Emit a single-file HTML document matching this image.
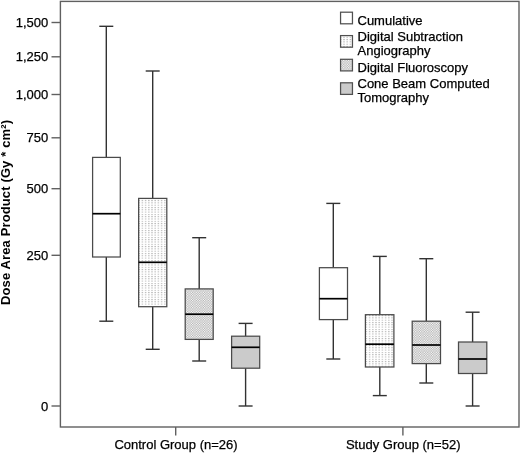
<!DOCTYPE html>
<html><head><meta charset="utf-8"><style>
html,body{margin:0;padding:0;background:#fff;width:520px;height:453px;overflow:hidden}
svg{display:block;filter:grayscale(1)}
.t{font-family:"Liberation Sans",sans-serif;font-size:13px;fill:#000;stroke:#000;stroke-width:0.25px}
.b{font-family:"Liberation Sans",sans-serif;font-size:13px;font-weight:bold;fill:#000}
</style></head><body>
<svg width="520" height="453" viewBox="0 0 520 453">
<defs>
<pattern id="pdsa" x="0" y="0" width="3.2" height="2.3" patternUnits="userSpaceOnUse">
<rect width="3.2" height="2.3" fill="#fff"/>
<rect x="1" y="0" width="1.2" height="1" fill="#a8a8a8"/>
</pattern>
<pattern id="pdf" x="0" y="0" width="2.4" height="2.4" patternUnits="userSpaceOnUse">
<rect width="2.4" height="2.4" fill="#adadad"/>
<rect x="0" y="0" width="1.2" height="1.2" fill="#fff"/>
<rect x="1.2" y="1.2" width="1.2" height="1.2" fill="#fff"/>
</pattern>
</defs>
<rect width="520" height="453" fill="#fff"/>
<rect x="60.4" y="1.4" width="458.6" height="425.6" fill="none" stroke="#606060" stroke-width="1.4"/>
<line x1="51.5" y1="22.5" x2="60.4" y2="22.5" stroke="#606060" stroke-width="1.4"/>
<text x="48.3" y="27.1" text-anchor="end" class="t">1,500</text>
<line x1="51.5" y1="56.8" x2="60.4" y2="56.8" stroke="#606060" stroke-width="1.4"/>
<text x="48.3" y="61.4" text-anchor="end" class="t">1,250</text>
<line x1="51.5" y1="94.5" x2="60.4" y2="94.5" stroke="#606060" stroke-width="1.4"/>
<text x="48.3" y="99.1" text-anchor="end" class="t">1,000</text>
<line x1="51.5" y1="137.8" x2="60.4" y2="137.8" stroke="#606060" stroke-width="1.4"/>
<text x="48.3" y="142.4" text-anchor="end" class="t">750</text>
<line x1="51.5" y1="188.7" x2="60.4" y2="188.7" stroke="#606060" stroke-width="1.4"/>
<text x="48.3" y="193.3" text-anchor="end" class="t">500</text>
<line x1="51.5" y1="255.3" x2="60.4" y2="255.3" stroke="#606060" stroke-width="1.4"/>
<text x="48.3" y="259.9" text-anchor="end" class="t">250</text>
<line x1="51.5" y1="406" x2="60.4" y2="406" stroke="#606060" stroke-width="1.4"/>
<text x="48.3" y="410.6" text-anchor="end" class="t">0</text>
<line x1="175.7" y1="427" x2="175.7" y2="435.6" stroke="#606060" stroke-width="1.4"/>
<text x="176.0" y="449.4" text-anchor="middle" class="t">Control Group (n=26)</text>
<line x1="402.9" y1="427" x2="402.9" y2="435.6" stroke="#606060" stroke-width="1.4"/>
<text x="403.2" y="449.4" text-anchor="middle" class="t">Study Group (n=52)</text>
<text transform="translate(10.4,305.0) rotate(-90)" textLength="185" lengthAdjust="spacing" class="b">Dose Area Product (Gy * cm²)</text>
<line x1="106.3" y1="26.3" x2="106.3" y2="157.4" stroke="#323232" stroke-width="1.4"/>
<line x1="106.3" y1="257.0" x2="106.3" y2="321.2" stroke="#323232" stroke-width="1.4"/>
<line x1="99.3" y1="26.3" x2="113.3" y2="26.3" stroke="#323232" stroke-width="1.4"/>
<line x1="99.3" y1="321.2" x2="113.3" y2="321.2" stroke="#323232" stroke-width="1.4"/>
<rect x="92.6" y="157.4" width="27.70" height="99.60" fill="#fff" stroke="#4a4a4a" stroke-width="1.25"/>
<line x1="92.6" y1="213.7" x2="120.3" y2="213.7" stroke="#000" stroke-width="1.7"/>
<line x1="152.7" y1="71.0" x2="152.7" y2="198.4" stroke="#323232" stroke-width="1.4"/>
<line x1="152.7" y1="306.7" x2="152.7" y2="349.3" stroke="#323232" stroke-width="1.4"/>
<line x1="145.7" y1="71.0" x2="159.7" y2="71.0" stroke="#323232" stroke-width="1.4"/>
<line x1="145.7" y1="349.3" x2="159.7" y2="349.3" stroke="#323232" stroke-width="1.4"/>
<rect x="138.65" y="198.4" width="28.15" height="108.30" fill="url(#pdsa)" stroke="#4a4a4a" stroke-width="1.25"/>
<line x1="138.65" y1="262.3" x2="166.8" y2="262.3" stroke="#000" stroke-width="1.7"/>
<line x1="199.2" y1="237.7" x2="199.2" y2="288.9" stroke="#323232" stroke-width="1.4"/>
<line x1="199.2" y1="339.4" x2="199.2" y2="361.0" stroke="#323232" stroke-width="1.4"/>
<line x1="192.2" y1="237.7" x2="206.2" y2="237.7" stroke="#323232" stroke-width="1.4"/>
<line x1="192.2" y1="361.0" x2="206.2" y2="361.0" stroke="#323232" stroke-width="1.4"/>
<rect x="185.2" y="288.9" width="28.00" height="50.50" fill="url(#pdf)" stroke="#4a4a4a" stroke-width="1.25"/>
<line x1="185.2" y1="314.2" x2="213.2" y2="314.2" stroke="#000" stroke-width="1.7"/>
<line x1="245.6" y1="323.4" x2="245.6" y2="336.2" stroke="#323232" stroke-width="1.4"/>
<line x1="245.6" y1="368.2" x2="245.6" y2="406.0" stroke="#323232" stroke-width="1.4"/>
<line x1="238.6" y1="323.4" x2="252.6" y2="323.4" stroke="#323232" stroke-width="1.4"/>
<line x1="238.6" y1="406.0" x2="252.6" y2="406.0" stroke="#323232" stroke-width="1.4"/>
<rect x="231.6" y="336.2" width="28.10" height="32.00" fill="#cbcbcb" stroke="#4a4a4a" stroke-width="1.25"/>
<line x1="231.6" y1="347.3" x2="259.7" y2="347.3" stroke="#000" stroke-width="1.7"/>
<line x1="333.3" y1="203.4" x2="333.3" y2="267.7" stroke="#323232" stroke-width="1.4"/>
<line x1="333.3" y1="319.6" x2="333.3" y2="359.0" stroke="#323232" stroke-width="1.4"/>
<line x1="326.3" y1="203.4" x2="340.3" y2="203.4" stroke="#323232" stroke-width="1.4"/>
<line x1="326.3" y1="359.0" x2="340.3" y2="359.0" stroke="#323232" stroke-width="1.4"/>
<rect x="319.4" y="267.7" width="28.10" height="51.90" fill="#fff" stroke="#4a4a4a" stroke-width="1.25"/>
<line x1="319.4" y1="298.7" x2="347.5" y2="298.7" stroke="#000" stroke-width="1.7"/>
<line x1="379.8" y1="256.4" x2="379.8" y2="314.7" stroke="#323232" stroke-width="1.4"/>
<line x1="379.8" y1="367.0" x2="379.8" y2="395.6" stroke="#323232" stroke-width="1.4"/>
<line x1="372.8" y1="256.4" x2="386.8" y2="256.4" stroke="#323232" stroke-width="1.4"/>
<line x1="372.8" y1="395.6" x2="386.8" y2="395.6" stroke="#323232" stroke-width="1.4"/>
<rect x="365.4" y="314.7" width="28.50" height="52.30" fill="url(#pdsa)" stroke="#4a4a4a" stroke-width="1.25"/>
<line x1="365.4" y1="344.2" x2="393.9" y2="344.2" stroke="#000" stroke-width="1.7"/>
<line x1="426.3" y1="258.7" x2="426.3" y2="321.2" stroke="#323232" stroke-width="1.4"/>
<line x1="426.3" y1="363.6" x2="426.3" y2="383.0" stroke="#323232" stroke-width="1.4"/>
<line x1="419.3" y1="258.7" x2="433.3" y2="258.7" stroke="#323232" stroke-width="1.4"/>
<line x1="419.3" y1="383.0" x2="433.3" y2="383.0" stroke="#323232" stroke-width="1.4"/>
<rect x="412.2" y="321.2" width="28.30" height="42.40" fill="url(#pdf)" stroke="#4a4a4a" stroke-width="1.25"/>
<line x1="412.2" y1="345.0" x2="440.5" y2="345.0" stroke="#000" stroke-width="1.7"/>
<line x1="472.6" y1="312.2" x2="472.6" y2="342.0" stroke="#323232" stroke-width="1.4"/>
<line x1="472.6" y1="373.5" x2="472.6" y2="406.0" stroke="#323232" stroke-width="1.4"/>
<line x1="465.6" y1="312.2" x2="479.6" y2="312.2" stroke="#323232" stroke-width="1.4"/>
<line x1="465.6" y1="406.0" x2="479.6" y2="406.0" stroke="#323232" stroke-width="1.4"/>
<rect x="458.5" y="342.0" width="28.30" height="31.50" fill="#cbcbcb" stroke="#4a4a4a" stroke-width="1.25"/>
<line x1="458.5" y1="359.0" x2="486.8" y2="359.0" stroke="#000" stroke-width="1.7"/>
<rect x="340.56" y="12.2" width="11.9" height="11.6" fill="#fff" stroke="#505050" stroke-width="1.25"/>
<text x="357.5" y="24.5" class="t">Cumulative</text>
<rect x="340.56" y="35.6" width="11.9" height="11.6" fill="url(#pdsa)" stroke="#505050" stroke-width="1.25"/>
<text x="357.5" y="41" class="t">Digital Subtraction</text>
<text x="357.5" y="54.5" class="t">Angiography</text>
<rect x="340.56" y="59.3" width="11.9" height="11.6" fill="url(#pdf)" stroke="#505050" stroke-width="1.25"/>
<text x="357.5" y="71.5" class="t">Digital Fluoroscopy</text>
<rect x="340.56" y="82.8" width="11.9" height="11.6" fill="#cbcbcb" stroke="#505050" stroke-width="1.25"/>
<text x="357.5" y="88" class="t">Cone Beam Computed</text>
<text x="357.5" y="101.5" class="t">Tomography</text>
</svg>
</body></html>
